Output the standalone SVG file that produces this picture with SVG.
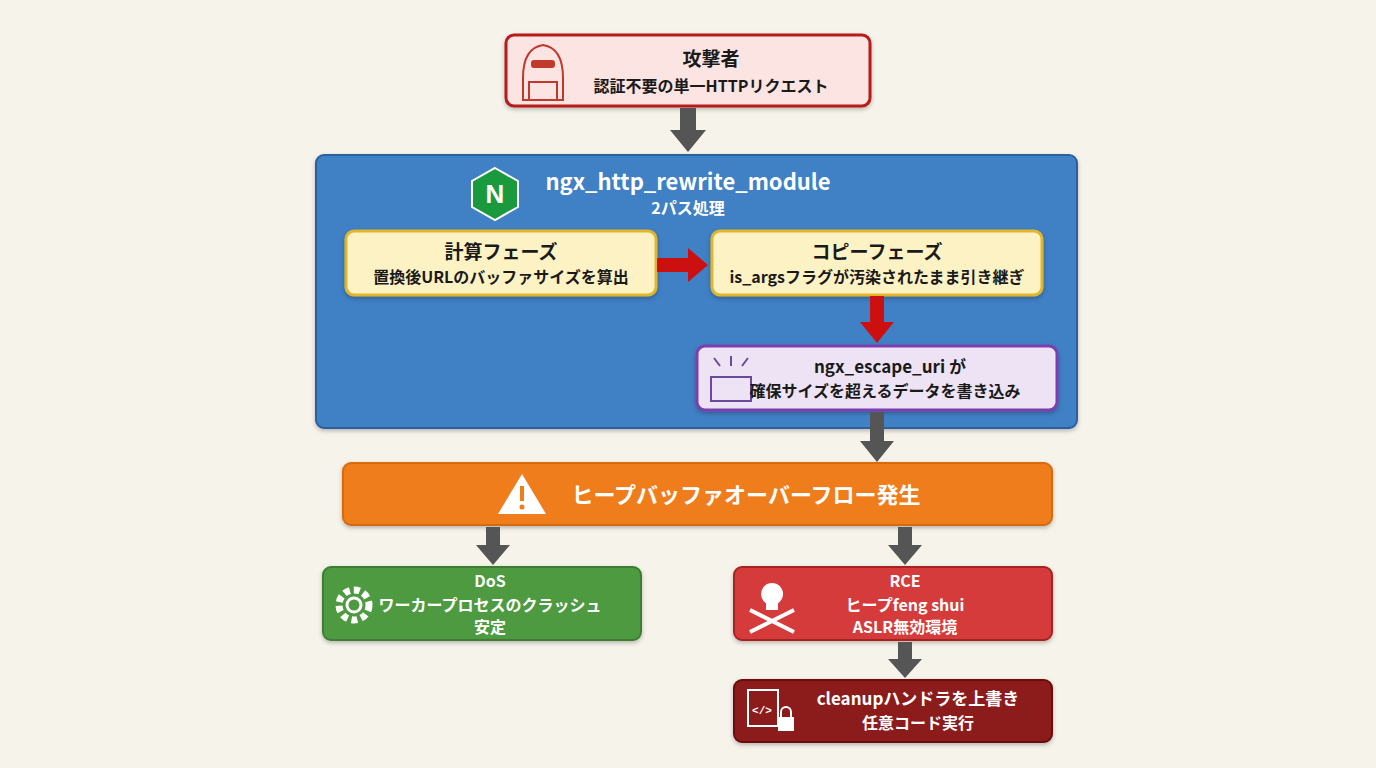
<svg xmlns="http://www.w3.org/2000/svg" width="1376" height="768" viewBox="0 0 1376 768">
<style>
text{font-family:"Noto Sans CJK JP","Noto Sans",sans-serif;font-weight:bold;text-anchor:middle}
.t{font-size:19px}.s{font-size:16px}
.w{fill:#fff}.k{fill:#1a1a1a}
.ga{fill:#555}.ra{fill:#cc1010}
</style>
<defs><filter id="sh" x="-5%" y="-10%" width="110%" height="130%"><feDropShadow dx="0" dy="2" stdDeviation="2" flood-opacity="0.25"/></filter></defs>
<rect width="1376" height="768" fill="#f5f3ea"/>
<g id="attacker">
<rect x="506" y="35" width="364" height="71" rx="8" fill="#fbe4e2" stroke="#b71c1c" stroke-width="3" filter="url(#sh)"/>
<path d="M523,100 v-22 q0,-30 20,-33 q20,3 20,33 v22 z" fill="none" stroke="#c0392b" stroke-width="2"/>
<rect x="531" y="60" width="24" height="8" rx="3" fill="#c0392b"/>
<rect x="529" y="82" width="28" height="18" fill="#fbe4e2" stroke="#c0392b" stroke-width="2"/>
<text class="t k" x="711" y="66">攻撃者</text>
<text class="s k" x="711" y="92">認証不要の単一HTTPリクエスト</text>
</g>
<g id="module">
<rect x="316" y="155" width="761" height="273" rx="8" fill="#3f80c4" stroke="#2b609c" stroke-width="2" filter="url(#sh)"/>
<polygon points="495,168 518,181 518,207 495,220 472,207 472,181" fill="#1a9a3c" stroke="#fff" stroke-width="2"/>
<text x="495" y="203" style="font-size:26px;fill:#fff;font-family:'Liberation Sans',sans-serif">N</text>
<text x="688" y="190" class="w" style="font-size:22px">ngx_http_rewrite_module</text>
<text x="688" y="214" class="s w">2パス処理</text>
</g>
<g id="calc">
<rect x="346" y="231" width="310" height="64" rx="8" fill="#fdf2c4" stroke="#e1b62c" stroke-width="3" filter="url(#sh)"/>
<text class="t k" x="501" y="259">計算フェーズ</text>
<text class="s k" x="501" y="283">置換後URLのバッファサイズを算出</text>
</g>
<g id="copy">
<rect x="712" y="231" width="330" height="64" rx="8" fill="#fdf2c4" stroke="#e1b62c" stroke-width="3" filter="url(#sh)"/>
<text class="t k" x="877" y="259">コピーフェーズ</text>
<text class="s k" x="877" y="283">is_argsフラグが汚染されたまま引き継ぎ</text>
</g>
<g id="escape">
<rect x="697" y="346" width="360" height="64" rx="8" fill="#ede3f5" stroke="#7b3fae" stroke-width="3" filter="url(#sh)"/>
<rect x="711" y="377" width="40" height="24" fill="none" stroke="#6a4a9a" stroke-width="2"/>
<path d="M714,358 l6,8 M731,356 v10 M748,358 l-6,8" stroke="#6a4a9a" stroke-width="2" fill="none"/>
<text class="s k" x="890" y="373" style="font-size:17px">ngx_escape_uri が</text>
<text class="s k" x="885" y="397">確保サイズを超えるデータを書き込み</text>
</g>
<g id="overflow">
<rect x="343" y="463" width="709" height="62" rx="8" fill="#ef7d1a" stroke="#d66a10" stroke-width="2" filter="url(#sh)"/>
<polygon points="522,474 546,514 498,514" fill="#fff"/>
<rect x="520" y="486" width="4" height="15" fill="#ef7d1a"/><circle cx="522" cy="507" r="2.5" fill="#ef7d1a"/>
<text x="746" y="503" class="w" style="font-size:22px">ヒープバッファオーバーフロー発生</text>
</g>
<g id="dos">
<rect x="323" y="567" width="318" height="73" rx="8" fill="#4e9a3f" stroke="#3c7e30" stroke-width="2" filter="url(#sh)"/>
<circle cx="354" cy="605" r="15" fill="none" stroke="#fff" stroke-width="7" stroke-dasharray="6 4"/>
<circle cx="354" cy="605" r="7" fill="none" stroke="#fff" stroke-width="3"/>
<text class="s w" x="490" y="587">DoS</text>
<text class="s w" x="490" y="611">ワーカープロセスのクラッシュ</text>
<text class="s w" x="490" y="633">安定</text>
</g>
<g id="rce">
<rect x="734" y="567" width="318" height="73" rx="8" fill="#d63b3b" stroke="#a82424" stroke-width="2" filter="url(#sh)"/>
<circle cx="772" cy="594" r="11" fill="#fff"/>
<rect x="766" y="600" width="12" height="10" fill="#fff"/>
<path d="M750,632 l44,-22 M750,610 l44,22" stroke="#fff" stroke-width="4"/>
<text class="s w" x="905" y="587">RCE</text>
<text class="s w" x="905" y="611">ヒープfeng shui</text>
<text class="s w" x="905" y="633">ASLR無効環境</text>
</g>
<g id="cleanup">
<rect x="734" y="680" width="318" height="62" rx="8" fill="#8c1a1a" stroke="#6a1010" stroke-width="2" filter="url(#sh)"/>
<rect x="748" y="690" width="30" height="36" fill="none" stroke="#fff" stroke-width="2"/>
<text x="762" y="714" style="font-size:11px;fill:#fff;font-family:'Liberation Mono',monospace">&lt;/&gt;</text>
<rect x="778" y="717" width="16" height="14" fill="#fff"/>
<path d="M781,717 v-5 a5,5 0 0 1 10,0 v5" fill="none" stroke="#fff" stroke-width="2"/>
<text class="s w" x="918" y="705" style="font-size:17px">cleanupハンドラを上書き</text>
<text class="s w" x="918" y="729">任意コード実行</text>
</g>
<g id="connectors">
<polygon class="ga" points="680,108 696,108 696,130 706,130 688,152 670,130 680,130"/>
<polygon class="ra" points="657,258 688,258 688,248 708,265 688,282 688,272 657,272"/>
<polygon class="ra" points="870,296 884,296 884,322 894,322 877,343 860,322 870,322"/>
<polygon class="ga" points="870,412 884,412 884,441 894,441 877,462 860,441 870,441"/>
<polygon class="ga" points="486,527 500,527 500,545 510,545 493,565 476,545 486,545"/>
<polygon class="ga" points="898,527 912,527 912,545 922,545 905,565 888,545 898,545"/>
<polygon class="ga" points="898,642 912,642 912,659 922,659 905,678 888,659 898,659"/>
</g>
</svg>
